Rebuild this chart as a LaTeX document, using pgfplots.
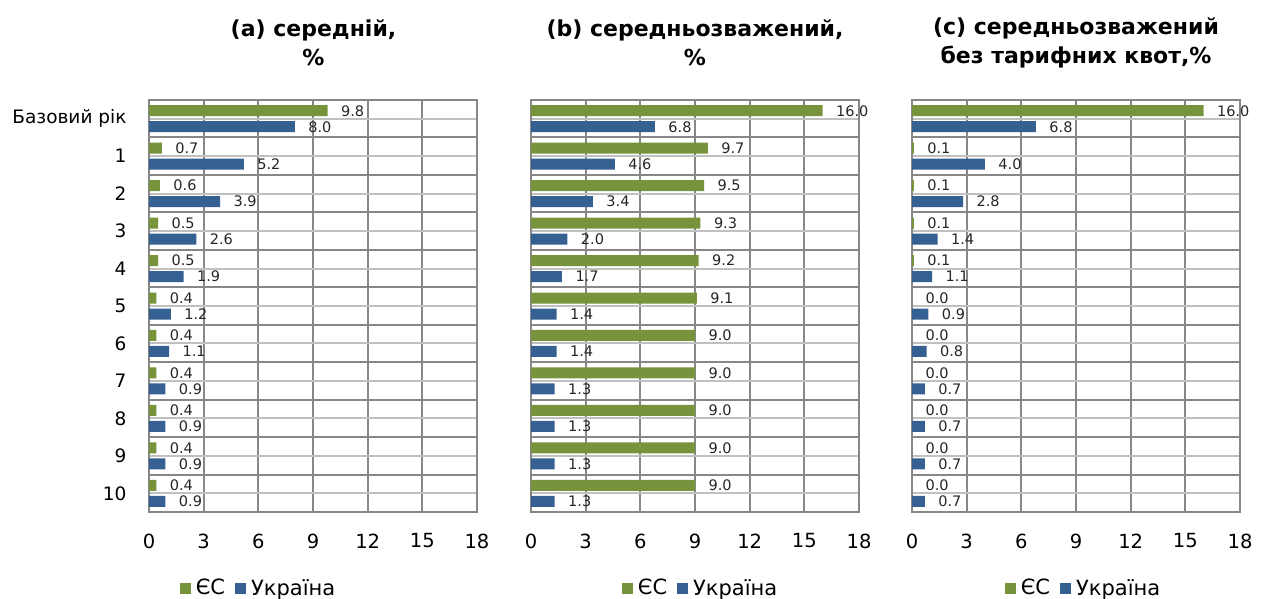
\documentclass[border=0pt]{standalone}
\usepackage{fontspec}
\setmainfont{DejaVu Sans}
\usepackage{pgfplots}
\pgfplotsset{compat=1.18}
\definecolor{eu}{HTML}{77933C}
\definecolor{ua}{HTML}{376092}
\definecolor{darkgrid}{HTML}{878787}
\definecolor{lightgrid}{HTML}{C0C0C0}
\pgfplotsset{
 panel/.style={
  scale only axis, width=328pt, height=412pt,
  xmin=0,xmax=18, ymin=-0.5, ymax=10.5, y dir=reverse,
  xtick={0,3,...,18}, ytick={0,...,10},
  minor ytick={-0.5,0.5,...,10.5},
  xmajorgrids, ymajorgrids, yminorgrids,
  major x grid style={darkgrid, line width=2pt},
  major y grid style={lightgrid, line width=2pt},
  minor y grid style={darkgrid, line width=2pt},
  axis line style={darkgrid, line width=2pt},
  major tick length=0pt, minor tick length=0pt,
  tick label style={text=black},
  /pgf/number format/assume math mode=true,
  x tick label style={font=\fontsize{19.5}{22}\selectfont, yshift=-18pt},
  y tick label style={font=\fontsize{18.5}{22}\selectfont, xshift=-19pt},
  xbar=5pt, bar width=11pt, point meta=x,
  nodes near coords={\pgfmathprintnumber[fixed,fixed zerofill,precision=1]{\pgfplotspointmeta}},
  nodes near coords style={font=\fontsize{14.5}{16}\selectfont, text=black!85, anchor=west, xshift=10pt},
  legend columns=2, reverse legend,
  legend style={draw=none, fill=none, font=\fontsize{21}{24}\selectfont, anchor=center, /tikz/every even column/.append style={column sep=8pt}},
  legend image code/.code={\fill[#1] (0pt,-6pt) rectangle (11pt,5pt); \path (14pt,0pt);},
 }
}
\begin{document}
\begin{tikzpicture}
\useasboundingbox (0pt,0pt) rectangle (1266pt,-598pt);
\begin{axis}[panel, at={(313pt,-306pt)}, anchor=center,
  yticklabels={Базовий рік,1,2,3,4,5,6,7,8,9,10},
  legend style={at={(0.334,-0.184)}}]
\addplot[fill=ua, draw=none] coordinates {(8.0,0) (5.2,1) (3.9,2) (2.6,3) (1.9,4) (1.2,5) (1.1,6) (0.9,7) (0.9,8) (0.9,9) (0.9,10)};
\addplot[fill=eu, draw=none] coordinates {(9.8,0) (0.7,1) (0.6,2) (0.5,3) (0.5,4) (0.4,5) (0.4,6) (0.4,7) (0.4,8) (0.4,9) (0.4,10)};
\legend{Україна, ЄС}
\end{axis}
\begin{axis}[panel, at={(695pt,-306pt)}, anchor=center,
  yticklabels={},
  legend style={at={(0.517,-0.184)}}]
\addplot[fill=ua, draw=none] coordinates {(6.8,0) (4.6,1) (3.4,2) (2.0,3) (1.7,4) (1.4,5) (1.4,6) (1.3,7) (1.3,8) (1.3,9) (1.3,10)};
\addplot[fill=eu, draw=none] coordinates {(16.0,0) (9.7,1) (9.5,2) (9.3,3) (9.2,4) (9.1,5) (9.0,6) (9.0,7) (9.0,8) (9.0,9) (9.0,10)};
\legend{Україна, ЄС}
\end{axis}
\begin{axis}[panel, at={(1076pt,-306pt)}, anchor=center,
  yticklabels={},
  legend style={at={(0.523,-0.184)}}]
\addplot[fill=ua, draw=none] coordinates {(6.8,0) (4.0,1) (2.8,2) (1.4,3) (1.1,4) (0.9,5) (0.8,6) (0.7,7) (0.7,8) (0.7,9) (0.7,10)};
\addplot[fill=eu, draw=none] coordinates {(16.0,0) (0.1,1) (0.1,2) (0.1,3) (0.1,4) (0.0,5) (0.0,6) (0.0,7) (0.0,8) (0.0,9) (0.0,10)};
\legend{Україна, ЄС}
\end{axis}
\node[font=\bfseries\fontsize{22}{29}\selectfont, align=center] at (313.5pt,-42.5pt) {(a) середній,\\\%};
\node[font=\bfseries\fontsize{22}{29}\selectfont, align=center] at (695pt,-42.5pt) {(b) середньозважений,\\\%};
\node[font=\bfseries\fontsize{22}{29}\selectfont, align=center] at (1076pt,-42.5pt) {(c) середньозважений\\без тарифних квот,\%};
\end{tikzpicture}
\end{document}
